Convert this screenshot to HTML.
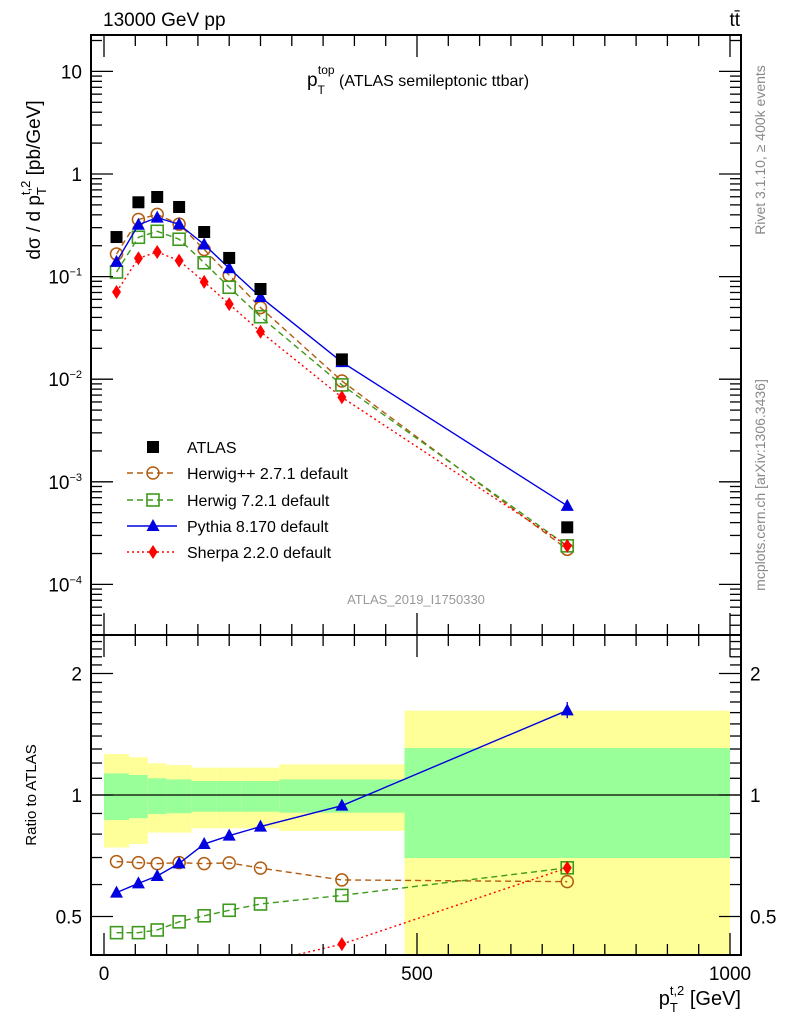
<!DOCTYPE html>
<html><head><meta charset="utf-8"><style>
body{margin:0;background:#fff}
svg{display:block;font-family:"Liberation Sans",sans-serif}
</style></head><body>
<svg id="c" width="786" height="1024" viewBox="0 0 786 1024">
<g id="bands"></g>
<g id="marks"></g>
<g id="axes"></g>
<text x="103" y="26" font-size="19">13000 GeV pp</text>
<text x="740" y="26" font-size="19" text-anchor="end">tt̄</text>
<text x="418" y="86" font-size="16" text-anchor="middle"><tspan font-size="19">p</tspan><tspan font-size="12" dy="8">T</tspan><tspan font-size="12" dx="-7" dy="-20">top</tspan><tspan dy="12"> (ATLAS semileptonic ttbar)</tspan></text>
<text x="416" y="604" font-size="13" fill="#999" text-anchor="middle">ATLAS_2019_I1750330</text>
<text transform="translate(765,150) rotate(-90)" font-size="14" fill="#888" text-anchor="middle">Rivet 3.1.10, ≥ 400k events</text>
<text transform="translate(765,485) rotate(-90)" font-size="14" fill="#888" text-anchor="middle">mcplots.cern.ch [arXiv:1306.3436]</text>
<text transform="translate(40,180) rotate(-90)" font-size="19" text-anchor="middle">dσ / d p<tspan font-size="13" dy="6">T</tspan><tspan font-size="13" dx="-8" dy="-16">t,2</tspan><tspan dy="10"> [pb/GeV]</tspan></text>
<text transform="translate(36,795) rotate(-90)" font-size="15" text-anchor="middle">Ratio to ATLAS</text>
<text x="741" y="1005" font-size="20" text-anchor="end">p<tspan font-size="13" dy="7">T</tspan><tspan font-size="13" dx="-8" dy="-17">t,2</tspan><tspan dy="10"> [GeV]</tspan></text>
<g id="legend"></g>
</svg>
<script>
const binEdges=[0,40,70,100,140,180,220,280,480,1000];
const xCenters=[20,55,85,120,160,200,250,380,740];
const atlas=[0.243,0.53,0.597,0.477,0.272,0.152,0.0757,0.0156,0.00036];
const ratioHerwigPP=[0.684,0.680,0.676,0.680,0.676,0.679,0.659,0.616,0.61];
const ratioHerwig7=[0.456,0.456,0.463,0.485,0.502,0.518,0.537,0.564,0.66];
const ratioPythia=[0.573,0.604,0.630,0.677,0.756,0.793,0.835,0.941,1.62];
const ratioSherpa=[0.291,0.285,0.291,0.300,0.327,0.355,0.383,0.427,0.66];
const yellowHi=[1.263,1.240,1.198,1.186,1.169,1.169,1.169,1.191,1.618];
const yellowLo=[0.741,0.756,0.807,0.807,0.827,0.827,0.827,0.815,0.3];
const greenHi=[1.131,1.121,1.100,1.093,1.083,1.083,1.083,1.093,1.307];
const greenLo=[0.867,0.876,0.897,0.901,0.909,0.909,0.909,0.904,0.698];
const mainTicks=["10","1","10<tspan font-size='11' dy='-8'>−1</tspan>","10<tspan font-size='11' dy='-8'>−2</tspan>","10<tspan font-size='11' dy='-8'>−3</tspan>","10<tspan font-size='11' dy='-8'>−4</tspan>"];
const mainTickVals=[10,1,0.1,0.01,0.001,0.0001];
const ratioTickVals=[2,1,0.5];
const ratioTickLabels=["2","1","0.5"];
const xTickVals=[0,500,1000];
const xTickLabels=["0","500","1000"];

const L=91,R=741,T=35,MB=635,RB=955;
const NS="http://www.w3.org/2000/svg";
const X=v=>104+v*0.626;
const Y=v=>174-102.6*Math.log10(v);
const YR=v=>795-121.5*Math.log2(v);
function mk(p,t,a){const e=document.createElementNS(NS,t);for(const k in a)e.setAttribute(k,a[k]);p.appendChild(e);return e;}
const bands=document.getElementById('bands'),marks=document.getElementById('marks'),axes=document.getElementById('axes'),leg=document.getElementById('legend');
// bands
for(let i=0;i<xCenters.length;i++){
 const x0=X(binEdges[i]),x1=X(binEdges[i+1]);
 const yt=Math.max(T+600,YR(yellowHi[i])),yb=Math.min(RB,YR(yellowLo[i]));
 const r=mk(bands,'rect',{x:x0,y:yt,width:x1-x0,height:yb-yt,fill:'#ffff99'});
 
 
 const gt=YR(greenHi[i]),gb=YR(greenLo[i]);
 const g=mk(bands,'rect',{x:x0,y:gt,width:x1-x0,height:gb-gt,fill:'#99ff99'});
 
 
}
const refl=mk(bands,'line',{x1:L,x2:R,y1:YR(1),y2:YR(1),stroke:'#000','stroke-width':1.3});


// clip ratio
const defs=mk(document.getElementById('c'),'defs',{});
const cp=mk(defs,'clipPath',{id:'rc'});mk(cp,'rect',{x:L,y:MB,width:R-L,height:RB-MB});
const cm=mk(defs,'clipPath',{id:'mc'});mk(cm,'rect',{x:L,y:T,width:R-L,height:MB-T});
function marker(g,type,x,y,col){
 if(type==='sq') return mk(g,'rect',{x:x-6,y:y-6,width:12,height:12,fill:col});
 if(type==='circ') return mk(g,'circle',{cx:x,cy:y,r:6,fill:'none',stroke:col,'stroke-width':1.5});
 if(type==='osq') return mk(g,'rect',{x:x-6,y:y-6,width:12,height:12,fill:'none',stroke:col,'stroke-width':1.6});
 if(type==='tri') return mk(g,'path',{d:`M${x},${y-7}L${x+6.5},${y+5}L${x-6.5},${y+5}Z`,fill:col});
 if(type==='dia') return mk(g,'path',{d:`M${x},${y-7}L${x+4.5},${y}L${x},${y+7}L${x-4.5},${y}Z`,fill:col});
}
const series=[
 {name:'herwigpp',r:ratioHerwigPP,col:'#b25c0f',m:'circ',dash:'6,4',lab:'Herwig++ 2.7.1 default'},
 {name:'herwig7',r:ratioHerwig7,col:'#3e9a1c',m:'osq',dash:'6,4',lab:'Herwig 7.2.1 default'},
 {name:'pythia',r:ratioPythia,col:'#0000e0',m:'tri',dash:'',lab:'Pythia 8.170 default'},
 {name:'sherpa',r:ratioSherpa,col:'#ff0000',m:'dia',dash:'2,3',lab:'Sherpa 2.2.0 default'}];
series.forEach(s=>{
 const gm=mk(marks,'g',{'clip-path':'url(#mc)'});
 
 
 const gr=mk(marks,'g',{'clip-path':'url(#rc)'});
 
 
 const pm=xCenters.map((x,i)=>X(x)+','+Y(s.r[i]*atlas[i])).join(' ');
 const pr=xCenters.map((x,i)=>X(x)+','+YR(s.r[i])).join(' ');
 const a={fill:'none',stroke:s.col,'stroke-width':1.4};if(s.dash)a['stroke-dasharray']=s.dash;
 mk(gm,'polyline',Object.assign({points:pm},a));
 mk(gr,'polyline',Object.assign({points:pr},a));
 xCenters.forEach((x,i)=>{
  const p=marker(gm,s.m,X(x),Y(s.r[i]*atlas[i]),s.col);
  
  
  const q=marker(gr,s.m,X(x),YR(s.r[i]),s.col);
  
  
 });
});
// pythia last error bar
mk(marks,'line',{x1:X(740),x2:X(740),y1:YR(1.70),y2:YR(1.55),stroke:'#0000e0','stroke-width':1.3});
xCenters.forEach((x,i)=>{
 const p=marker(marks,'sq',X(x),Y(atlas[i]),'#000');
 
 
});
// axes frames
[[T,MB],[MB,RB]].forEach(([a,b])=>mk(axes,'rect',{x:L,y:a,width:R-L,height:b-a,fill:'none',stroke:'#000','stroke-width':2}));
function tk(x1,y1,x2,y2){mk(axes,'line',{x1,y1,x2,y2,stroke:'#000','stroke-width':1.3});}
// main log ticks
for(let d=-5;d<=1;d++)for(let m=1;m<=9;m++){const v=m*Math.pow(10,d);const y=Y(v);if(y<T||y>MB)continue;const l=m===1?22:11;tk(L,y,L+l,y);tk(R,y,R-l,y);}
mainTickVals.forEach((v,i)=>{const t=mk(axes,'text',{x:82,y:Y(v)+7,'font-size':19,'text-anchor':'end'});t.innerHTML=mainTicks[i];});
// ratio ticks
for(let v=0.4;v<=2.5;v+=0.1){const y=YR(v);if(y<MB||y>RB)continue;const maj=[0.5,1,2].some(m=>Math.abs(m-v)<1e-6);const l=maj?22:11;tk(L,y,L+l,y);tk(R,y,R-l,y);}
ratioTickVals.forEach((v,i)=>{
 const t=mk(axes,'text',{x:82,y:YR(v)+7,'font-size':19,'text-anchor':'end'});t.textContent=ratioTickLabels[i];
 
 
 const t2=mk(axes,'text',{x:750,y:YR(v)+7,'font-size':19});t2.textContent=ratioTickLabels[i];
 
 
});
// x ticks
for(let v=0;v<=1000;v+=50){const x=X(v);const l=v%500===0?22:11;[T,MB].forEach(y=>tk(x,y,x,y+l));tk(x,MB,x,MB-l);tk(x,RB,x,RB-l);}
xTickVals.forEach((v,i)=>{const t=mk(axes,'text',{x:X(v),y:980,'font-size':19,'text-anchor':'middle'});t.textContent=xTickLabels[i];});
// legend
const legY=[447,473,500,526,552];
const e0=marker(leg,'sq',153,legY[0],'#000');
const t0=mk(leg,'text',{x:187,y:legY[0]+6,'font-size':16});t0.textContent='ATLAS';


series.forEach((s,i)=>{const y=legY[i+1];const a={x1:127,x2:177,y1:y,y2:y,stroke:s.col,'stroke-width':1.4};if(s.dash)a['stroke-dasharray']=s.dash;mk(leg,'line',a);marker(leg,s.m,153,y,s.col);
 const t=mk(leg,'text',{x:187,y:y+6,'font-size':16});t.textContent=s.lab;
 
 });
</script>
</body></html>
